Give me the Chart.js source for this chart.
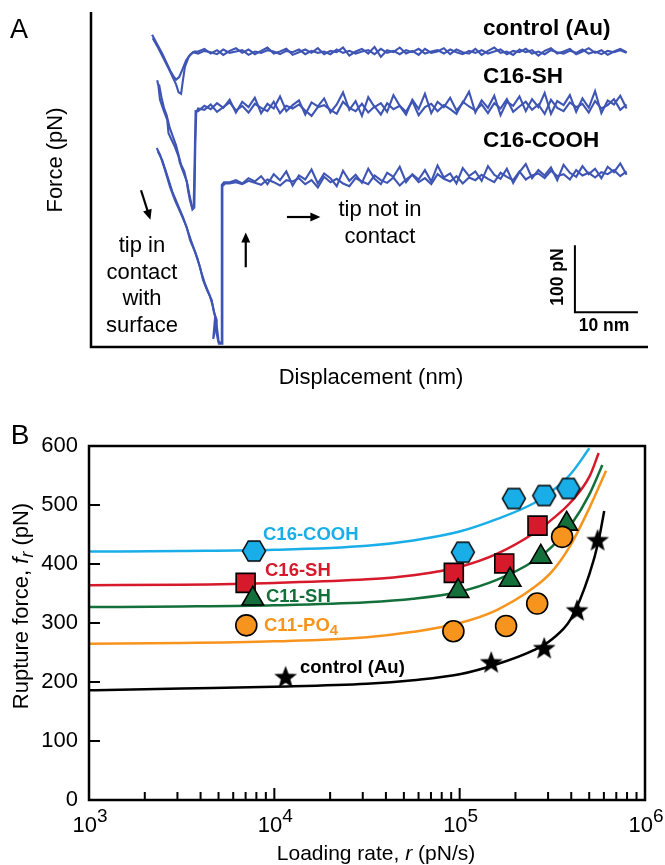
<!DOCTYPE html>
<html>
<head>
<meta charset="utf-8">
<script src="https://cdn.jsdelivr.net/npm/chart.js@4.4.1/dist/chart.umd.min.js"></script>
<style>
body { margin: 0; background: #fff; font-family: "Liberation Sans", Arial, sans-serif; }
#wrap { position: relative; width: 665px; height: 865px; overflow: hidden; }
canvas { position: absolute; left: 0; }
.t { position: absolute; white-space: nowrap; line-height: 1; color: #000; }
.c { transform: translate(-50%, -50%); text-align: center; }
.l { transform: translateY(-50%); }
.r { transform: translate(-50%, -50%) rotate(-90deg); }
.b { font-weight: bold; }
sub { font-size: 0.8em; line-height: 0; vertical-align: -0.3em; }
.xt { position: absolute; transform: translateX(-50%); font-size: 22px; line-height: 22px; white-space: nowrap; }
.xt span { font-size: 19px; position: relative; top: -10px; }
</style>
</head>
<body>
<div id="wrap">
  <canvas id="chartA" width="665" height="395" style="top:0"></canvas>
  <canvas id="chartB" width="665" height="465" style="top:400px"></canvas>

  <!-- panel A text -->
  <div class="t c" style="left:19px;top:29px;font-size:27px">A</div>
  <div class="t r" style="left:55px;top:160px;font-size:22px">Force (pN)</div>
  <div class="t c" style="left:371px;top:377px;font-size:22px">Displacement (nm)</div>
  <div class="t l b" style="left:483px;top:28px;font-size:22.5px">control (Au)</div>
  <div class="t l b" style="left:483px;top:76px;font-size:22.5px">C16-SH</div>
  <div class="t l b" style="left:483px;top:140px;font-size:22.5px">C16-COOH</div>
  <div class="t c" style="left:142px;top:285px;font-size:22px;line-height:26.7px">tip in<br>contact<br>with<br>surface</div>
  <div class="t c" style="left:380px;top:221.5px;font-size:22px;line-height:27px">tip not in<br>contact</div>
  <div class="t r b" style="left:558px;top:277px;font-size:17.5px">100 pN</div>
  <div class="t c b" style="left:604px;top:326px;font-size:17.5px">10 nm</div>

  <!-- panel B text -->
  <div class="t c" style="left:20px;top:435px;font-size:28px">B</div>
  <div class="t r" style="left:21px;top:606px;font-size:22px">Rupture force, <i>f</i><sub><i>r</i></sub> (pN)</div>
  <div class="t c" style="left:376px;top:852px;font-size:21px">Loading rate, <i>r</i> (pN/s)</div>
  <div class="t l b" style="left:263px;top:534px;font-size:18.5px;color:#1aaee8">C16-COOH</div>
  <div class="t l b" style="left:265px;top:570px;font-size:18.5px;color:#d6192b">C16-SH</div>
  <div class="t l b" style="left:266px;top:596px;font-size:18.5px;color:#13703a">C11-SH</div>
  <div class="t l b" style="left:264px;top:625px;font-size:18.5px;color:#f7941d">C11-PO<sub>4</sub></div>
  <div class="t l b" style="left:300px;top:667px;font-size:18.5px">control (Au)</div>
</div>

<script>
// ---------- panel A: force traces (nm, pN) ----------
const flatX = [17,18,19,20,21,22,23,24,25,26,27,28,29,30,31,32,33,34,35,36,37,38,39,40,41,42,43,44,45,46,47,48,49,50,51,52,53,54,55,56,57,58,59,60,61,62,63,64,65,66,67,68,69,70,71,72,73,74,75,76,77,78,79,80,81,82,83,84,85];

const ctrlContactAX = [9.7, 10.5, 11.3, 12.0, 12.6, 13.1, 13.5, 14.0, 14.5, 15.1, 15.8, 16.4];
const ctrlContactAY = [466, 452, 438, 424, 412, 404, 399, 403, 414, 428, 437, 441];
const ctrlContactBX = [9.8, 10.7, 11.5, 12.3, 13.0, 13.5, 13.9, 14.3, 14.5, 14.9, 15.5, 16.2];
const ctrlContactBY = [461, 446, 431, 416, 402, 392, 380, 378, 392, 418, 433, 440];
const ctrlFlatA = [441,445,438,443,436,442,446,439,444,437, 442,447,438,441,445,436,440,444,439,446,
  437,442,440,447,435,441,445,438,448,433, 443,440,447,438,442,436,445,439,441,446,
  437,444,440,438,445,436,442,447,439,441, 436,444,440,443,435,442,446,438,441,445,
  437,441,446,439,443,436,441,445,440];
const ctrlFlatB = [438,442,440,437,444,439,441,443,436,441, 439,443,441,437,442,440,444,437,442,439,
  441,437,444,439,442,438,441,443,437,445, 439,442,437,443,440,445,438,441,443,438,
  444,440,437,442,439,443,438,441,444,437, 442,440,445,438,441,437,443,440,438,442,
  439,444,438,441,437,442,440,443,439];

const shContactAX = [10.5, 10.7, 10.95, 11.5, 12.1, 12.3, 12.8, 13.3, 13.9, 14.1, 14.7, 15.2, 15.4, 15.7, 16.0, 16.3, 16.45, 16.6];
const shContactAY = [398, 390, 369, 354, 339, 319, 309, 299, 284, 275, 260, 247, 234, 219, 209, 212, 280, 352];
const shContactBX = [10.8, 11.2, 11.6, 12.0, 12.5, 13.0, 13.5, 13.8, 14.3, 14.8, 15.3, 15.6, 15.9, 16.1, 16.4, 16.55, 16.7];
const shContactBY = [392, 372, 356, 346, 327, 314, 301, 290, 272, 262, 243, 228, 215, 205, 208, 300, 350];
const shFlatA = [352,360,355,364,357,369,350,366,358,372, 349,363,356,374,352,361,368,347,365,359,
  371,350,362,380,354,367,345,373,358,364, 351,376,360,347,369,355,378,349,366,358,
  372,353,364,381,350,368,357,375,346,366, 360,374,352,370,358,379,348,367,361,376,
  351,371,357,382,349,368,362,375,356];
const shFlatB = [356,354,362,351,358,365,353,360,350,363, 357,352,366,349,360,356,362,353,345,358,
  361,354,348,366,357,352,363,350,359,347, 364,355,360,351,367,346,358,363,352,361,
  355,348,366,359,353,362,349,364,356,370, 351,359,366,354,362,348,369,357,352,365,
  358,363,350,367,356,361,370,354,362];

const coohContactAX = [10.43, 10.95, 11.75, 12.54, 13.33, 14.13, 15.19, 15.71, 16.51, 17.3, 17.78, 18.41, 19.16, 19.52, 19.95, 19.84, 20.21, 20.7, 20.76, 21.1];
const coohContactAY = [297, 287, 264, 239, 219, 202, 179, 160, 142, 119, 100, 85, 70, 52, 40, 25, 8, 6, 242, 246];
const coohContactBX = [10.6, 11.3, 12.1, 12.9, 13.7, 14.6, 15.4, 16.1, 16.9, 17.5, 18.1, 18.8, 19.3, 19.7, 19.4, 19.9, 20.3, 20.8, 20.85, 21.3];
const coohContactBY = [292, 279, 256, 232, 214, 194, 172, 153, 132, 112, 94, 78, 62, 45, 12, 36, 5, 5, 240, 244];
const coohFlatA = [246,249,244,252,247,255,243,258,249,262, 241,256,250,265,244,259,252,240,263,248,
  257,245,266,251,243,260,254,269,246,258, 250,264,247,271,253,259,244,267,255,262,
  248,270,257,251,266,245,261,273,252,264, 256,268,249,272,260,254,270,258,266,252,
  269,261,274,257];
const coohFlatB = [244,246,243,248,245,242,250,246,241,249, 247,252,243,249,238,254,246,251,244,240,
  252,247,243,256,249,245,253,241,250,257, 246,252,243,258,251,247,255,244,253,249,
  257,251,246,260,254,249,262,250,256,259, 252,263,255,258,250,264,256,260,253,261,
  258,264,255,262];

// ---------- panel B: rupture force vs loading rate ----------
const coohX = [7770, 104000, 196000, 286000, 386000];
const coohY = [422, 420, 511, 516, 528];
const sh16X = [7000, 93000, 174000, 263000];
const sh16Y = [368, 385, 401, 465];
const sh11X = [7650, 98000, 187000, 274000, 378000];
const sh11Y = [341, 354, 373, 412, 468];
const po4X = [7060, 92500, 178000, 262000, 357000];
const po4Y = [296, 286, 295, 333, 446];
const ctrlX = [11500, 148000, 286000, 430000, 555000];
const ctrlY = [208, 233, 257, 321, 440];

const fitCoohX = [1000, 3162, 10000, 31623, 56234, 100000, 158489, 251189, 316228, 398107, 501187];
const fitCoohY = [421, 422, 424, 431, 440, 455, 476, 503, 524, 553, 596];
const fitSh16X = [1000, 3162, 10000, 31623, 56234, 100000, 158489, 251189, 316228, 398107, 501187, 562341];
const fitSh16Y = [364, 365, 368, 374, 381, 395, 417, 452, 476, 505, 548, 588];
const fitSh11X = [1000, 3162, 10000, 31623, 56234, 100000, 158489, 251189, 316228, 398107, 501187, 588844];
const fitSh11Y = [327, 328, 330, 335, 341, 353, 373, 405, 430, 466, 518, 568];
const fitPo4X = [1000, 3162, 10000, 31623, 56234, 100000, 158489, 251189, 316228, 398107, 501187, 616595];
const fitPo4Y = [265, 266, 269, 276, 285, 300, 322, 360, 388, 433, 495, 558];
const fitCtrlX = [1000, 3162, 10000, 31623, 56234, 100000, 158489, 251189, 316228, 398107, 501187, 562341, 602560];
const fitCtrlY = [186, 189, 192, 197, 203, 213, 230, 254, 273, 307, 383, 440, 490];

const xExponents = [3, 4, 5, 6];
const yTicks = [0, 100, 200, 300, 400, 500, 600];

const CYAN = '#1aaee8', RED = '#d6192b', GREEN = '#13703a', ORANGE = '#f7941d';
const TRACE = '#3f55b4';
const FONT = '"Liberation Sans", Arial, sans-serif';

function pts(xs, ys) {
  return xs.map((x, i) => ({ x: x, y: ys[i] }));
}

function arrow(ctx, x1, y1, x2, y2) {
  const ang = Math.atan2(y2 - y1, x2 - x1);
  const hl = 10, hw = 4.5;
  ctx.beginPath();
  ctx.moveTo(x1, y1);
  ctx.lineTo(x2 - Math.cos(ang) * hl * 0.8, y2 - Math.sin(ang) * hl * 0.8);
  ctx.stroke();
  ctx.beginPath();
  ctx.moveTo(x2, y2);
  ctx.lineTo(x2 - Math.cos(ang) * hl + Math.sin(ang) * hw, y2 - Math.sin(ang) * hl - Math.cos(ang) * hw);
  ctx.lineTo(x2 - Math.cos(ang) * hl - Math.sin(ang) * hw, y2 - Math.sin(ang) * hl + Math.cos(ang) * hw);
  ctx.closePath();
  ctx.fill();
}

const panelAPlugin = {
  id: 'panelA',
  afterDraw(chart) {
    const ctx = chart.ctx, a = chart.chartArea;
    const sx = chart.scales.x, sy = chart.scales.y;
    const X = v => sx.getPixelForValue(v), Y = v => sy.getPixelForValue(v);
    ctx.save();
    ctx.strokeStyle = '#000';
    ctx.fillStyle = '#000';
    ctx.lineWidth = 2.5;
    ctx.beginPath();
    ctx.moveTo(a.left, a.top);
    ctx.lineTo(a.left, a.bottom);
    ctx.lineTo(a.right, a.bottom);
    ctx.stroke();
    // scale bar 10 nm x 100 pN
    ctx.lineWidth = 2;
    ctx.beginPath();
    ctx.moveTo(X(76.8), Y(152));
    ctx.lineTo(X(76.8), Y(52));
    ctx.lineTo(X(86.8), Y(52));
    ctx.stroke();
    // arrows
    ctx.lineWidth = 2.2;
    arrow(ctx, X(7.94), Y(234), X(9.43), Y(190));
    arrow(ctx, X(31.1), Y(194), X(36.4), Y(194));
    arrow(ctx, X(24.56), Y(119), X(24.56), Y(171));
    ctx.restore();
  }
};

new Chart(document.getElementById('chartA'), {
  type: 'line',
  data: {
    datasets: [
      { data: pts(ctrlContactAX, ctrlContactAY).concat(pts(flatX, ctrlFlatA)) },
      { data: pts(ctrlContactBX, ctrlContactBY).concat(pts(flatX, ctrlFlatB)) },
      { data: pts(shContactAX, shContactAY).concat(pts(flatX, shFlatA)) },
      { data: pts(shContactBX, shContactBY).concat(pts(flatX, shFlatB)) },
      { data: pts(coohContactAX, coohContactAY).concat(pts(flatX.slice(5), coohFlatA)) },
      { data: pts(coohContactBX, coohContactBY).concat(pts(flatX.slice(5), coohFlatB)) }
    ].map(d => Object.assign(d, {
      borderColor: TRACE, borderWidth: 2.1, pointRadius: 0, tension: 0, fill: false
    }))
  },
  options: {
    responsive: false,
    animation: false,
    devicePixelRatio: 1,
    events: [],
    layout: { padding: { left: 91, right: 17, top: 12, bottom: 48 } },
    plugins: { legend: { display: false }, tooltip: { enabled: false } },
    scales: {
      x: { type: 'linear', min: 0, max: 88.4, display: false },
      y: { type: 'linear', min: 0, max: 500, display: false }
    }
  },
  plugins: [panelAPlugin]
});

// ---------- marker images ----------
function makeHex() {
  const c = document.createElement('canvas');
  c.width = 26; c.height = 24;
  const g = c.getContext('2d');
  const cx = 13, cy = 12, rx = 11.5, ry = 10;
  g.beginPath();
  g.moveTo(cx - rx, cy);
  g.lineTo(cx - rx / 2, cy - ry);
  g.lineTo(cx + rx / 2, cy - ry);
  g.lineTo(cx + rx, cy);
  g.lineTo(cx + rx / 2, cy + ry);
  g.lineTo(cx - rx / 2, cy + ry);
  g.closePath();
  g.fillStyle = CYAN;
  g.fill();
  g.lineWidth = 1.5;
  g.strokeStyle = '#000';
  g.stroke();
  return c;
}
function makeStar() {
  const c = document.createElement('canvas');
  c.width = 26; c.height = 26;
  const g = c.getContext('2d');
  const cx = 13, cy = 13.5, ro = 12, ri = 5;
  g.beginPath();
  for (let i = 0; i < 10; i++) {
    const r = i % 2 === 0 ? ro : ri;
    const ang = -Math.PI / 2 + i * Math.PI / 5;
    const px = cx + Math.cos(ang) * r, py = cy + Math.sin(ang) * r;
    if (i === 0) g.moveTo(px, py); else g.lineTo(px, py);
  }
  g.closePath();
  g.fillStyle = '#000';
  g.fill();
  return c;
}

const panelBPlugin = {
  id: 'panelB',
  afterDraw(chart) {
    const ctx = chart.ctx, a = chart.chartArea;
    const sx = chart.scales.x, sy = chart.scales.y;
    ctx.save();
    ctx.strokeStyle = '#000';
    ctx.lineWidth = 2;
    ctx.beginPath();
    for (const e of [3, 4, 5]) {
      for (let m = 1; m <= 9; m++) {
        const v = m * Math.pow(10, e);
        if (v <= 1000) continue;
        const px = sx.getPixelForValue(v);
        const len = m === 1 ? 12 : 8;
        ctx.moveTo(px, a.bottom);
        ctx.lineTo(px, a.bottom - len);
      }
    }
    for (const v of yTicks) {
      if (v === 0 || v === 600) continue;
      const py = sy.getPixelForValue(v);
      ctx.moveTo(a.left, py);
      ctx.lineTo(a.left + 11, py);
    }
    ctx.stroke();
    ctx.lineWidth = 2.5;
    ctx.strokeRect(a.left, a.top, a.right - a.left, a.bottom - a.top);
    ctx.restore();
  }
};

const hexImg = makeHex();
const starImg = makeStar();

function fit(xs, ys, color) {
  return {
    data: pts(xs, ys), borderColor: color, borderWidth: 2.5, pointRadius: 0,
    cubicInterpolationMode: 'monotone', fill: false, order: 2
  };
}
function marks(xs, ys, style, fillColor, radius) {
  return {
    data: pts(xs, ys), showLine: false, pointStyle: style, pointRadius: radius,
    pointBackgroundColor: fillColor, pointBorderColor: '#000', pointBorderWidth: 1.6,
    order: 1
  };
}

const chartB = new Chart(document.getElementById('chartB'), {
  type: 'line',
  data: {
    datasets: [
      marks(po4X, po4Y, 'circle', ORANGE, 10.5),
      marks(sh11X, sh11Y, 'triangle', GREEN, 12.5),
      marks(sh16X, sh16Y, 'rect', RED, 13.4),
      marks(coohX, coohY, hexImg, CYAN, 11),
      marks(ctrlX, ctrlY, starImg, '#000', 11),
      fit(fitCoohX, fitCoohY, CYAN),
      fit(fitSh16X, fitSh16Y, RED),
      fit(fitSh11X, fitSh11Y, GREEN),
      fit(fitPo4X, fitPo4Y, ORANGE),
      fit(fitCtrlX, fitCtrlY, '#000')
    ]
  },
  options: {
    responsive: false,
    animation: false,
    devicePixelRatio: 1,
    events: [],
    layout: { padding: { left: 0, right: 20, top: 46, bottom: 65 } },
    plugins: { legend: { display: false }, tooltip: { enabled: false } },
    scales: {
      x: { type: 'logarithmic', min: 1000, max: 1000000, display: false },
      y: {
        type: 'linear', min: 0, max: 600,
        afterBuildTicks: s => { s.ticks = yTicks.map(v => ({ value: v })); },
        afterFit: s => { s.width = 89; },
        ticks: { color: '#000', padding: 11, font: { family: FONT, size: 22 } },
        grid: { display: false, drawTicks: false },
        border: { display: false }
      }
    }
  },
  plugins: [panelBPlugin]
});

// x tick labels 10^n placed through the log scale
const wrap = document.getElementById('wrap');
for (const e of xExponents) {
  const px = chartB.scales.x.getPixelForValue(Math.pow(10, e));
  const d = document.createElement('div');
  d.className = 'xt';
  d.style.left = (px + 1) + 'px';
  d.style.top = (400 + 414.4) + 'px';
  d.innerHTML = '10<span>' + e + '</span>';
  wrap.appendChild(d);
}
</script>
</body>
</html>
